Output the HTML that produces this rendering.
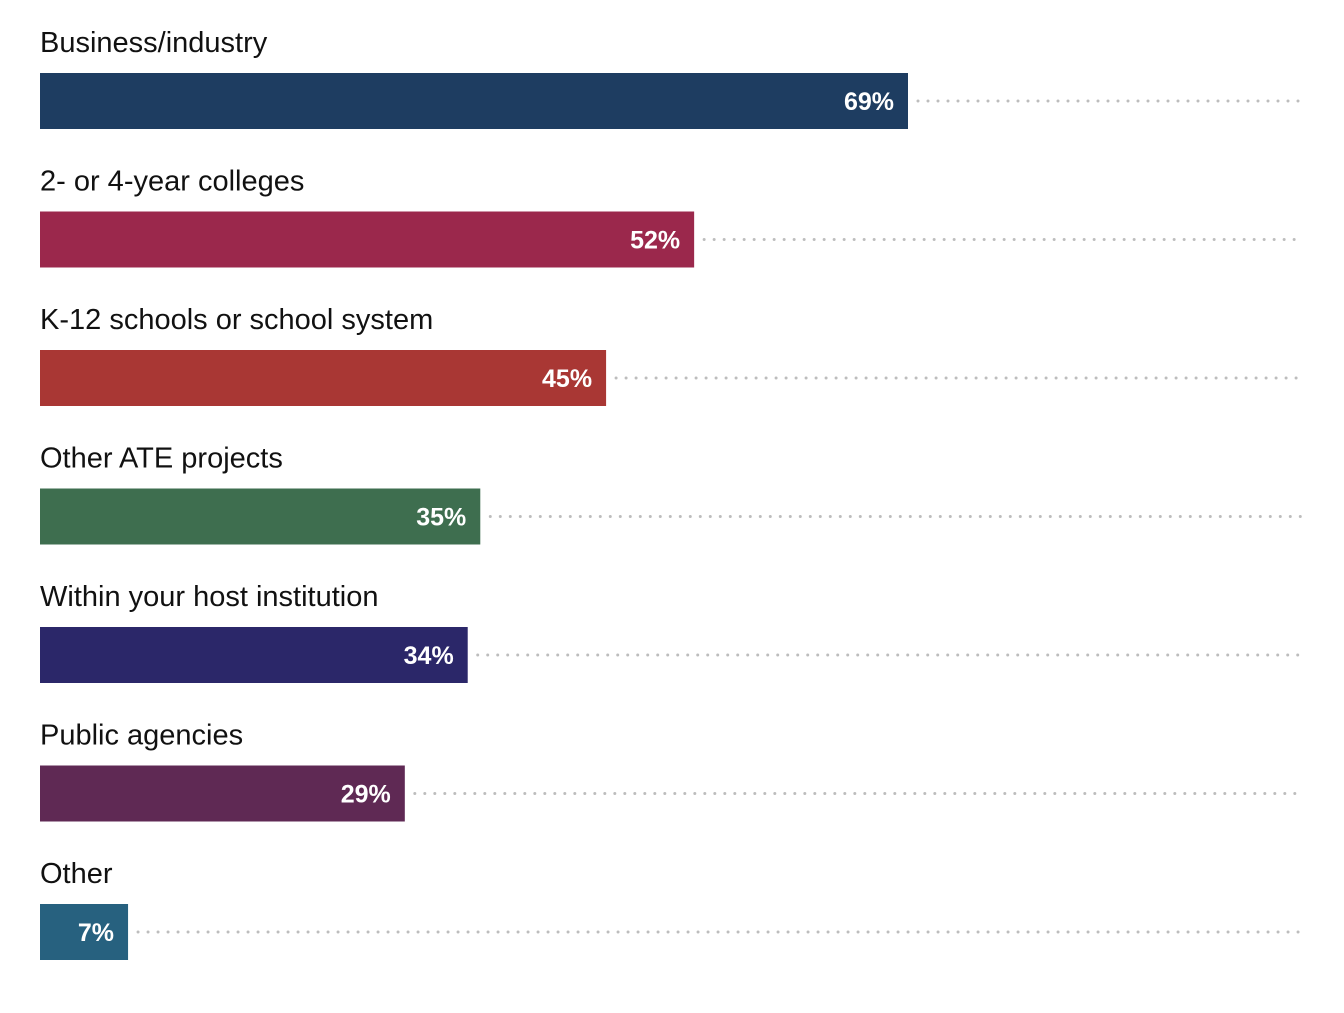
<!DOCTYPE html>
<html><head><meta charset="utf-8"><style>
body{margin:0;background:#fff;width:1344px;height:1008px;overflow:hidden}
svg text{font-family:"Liberation Sans",sans-serif}
</style></head><body>
<svg id="chart" width="1344" height="1008"></svg>
<script>
const categories=["Business/industry","2- or 4-year colleges","K-12 schools or school system","Other ATE projects","Within your host institution","Public agencies","Other"];
const values=[69,52,45,35,34,29,7];
const colors=["#1e3d61","#9b284c","#a93734","#3e6e4f","#2b2769","#5f2954","#27617f"];
const svg=document.getElementById('chart');
const NS='http://www.w3.org/2000/svg';
const x0=40, scale=868/69;
const xPos=v=>x0+v*scale;
const yTop=i=>73+i*138.5;
function mk(tag,attrs){const e=document.createElementNS(NS,tag);for(const k in attrs)e.setAttribute(k,attrs[k]);svg.appendChild(e);return e;}
categories.forEach((c,i)=>{
  const y=yTop(i), xe=xPos(values[i]);
  const lab=mk('text',{x:40,y:y-21,'font-size':29,fill:'#111'});
  lab.textContent=c;
  
  
  const r=mk('rect',{x:x0,y:y,width:xe-x0,height:56,fill:colors[i]});
  
  
  const l=mk('line',{x1:xe+10,x2:1304,y1:y+28,y2:y+28,stroke:'#bdbdbd','stroke-width':3,'stroke-dasharray':'0 10','stroke-linecap':'round'});
  
  
  const v=mk('text',{x:xe-14,y:y+37,'font-size':25,'font-weight':'bold',fill:'#fff','text-anchor':'end'});
  v.textContent=values[i]+'%';
  
  
});
</script>
</body></html>
